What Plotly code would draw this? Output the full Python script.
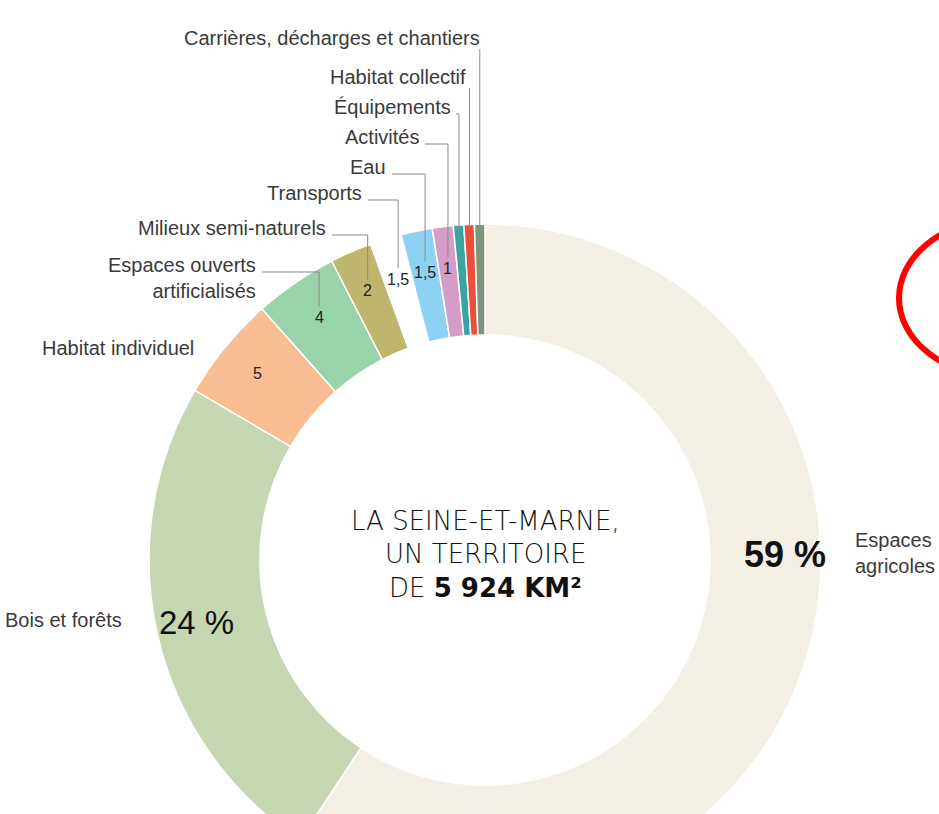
import math
import plotly.graph_objects as go

# ---------------- data ----------------
categories = ["Espaces agricoles", "Bois et forêts", "Habitat individuel",
              "Espaces ouverts artificialisés", "Milieux semi-naturels",
              "Transports", "Eau", "Activités", "Équipements",
              "Habitat collectif", "Carrières, décharges et chantiers"]
values = [59, 24, 5, 4, 2, 1.5, 1.5, 1, 0.5, 0.5, 0.5]
value_labels = ["59 %", "24 %", "5", "4", "2", "1,5", "1,5", "1", "", "", ""]
colors = ["#F3EFE4", "#C6D6B1", "#F8BD93", "#99D3AA", "#BEB66C", "#FFFFFF",
          "#8ED2F3", "#D49DC9", "#3AA5A0", "#E9503B", "#7F957A"]

# ---------------- geometry (pixels) ----------------
W, H = 939, 900
CX, CY, R = 485, 560, 336
HOLE = 0.67

def px(x):
    return x / W

def py(y):
    return 1 - y / H

total = sum(values)
mids = []
cum = 0.0
for v in values:
    mids.append(360.0 * (cum + v / 2) / total)
    cum += v

def polar(theta_deg, r):
    t = math.radians(theta_deg)
    return CX + r * math.sin(t), CY - r * math.cos(t)

fig = go.Figure(go.Pie(
    labels=categories, values=values, sort=False, direction="clockwise",
    rotation=0, hole=HOLE, textinfo="none", hoverinfo="label+value",
    marker=dict(colors=colors, line=dict(color="white", width=1.5)),
    domain=dict(x=[px(CX - R), px(CX + R)], y=[py(CY + R), py(CY - R)]),
    showlegend=False,
))

LABEL_FONT = dict(family="Liberation Sans, Arial", size=20, color="#3a3a3a")
NUM_FONT = dict(family="Liberation Sans, Arial", size=16, color="#222")

annotations = []
shapes = []

def add_text(x, y, text, font, xanchor="center", yanchor="middle", align="center"):
    annotations.append(dict(x=px(x), y=py(y), xref="paper", yref="paper", text=text,
                            showarrow=False, font=font, xanchor=xanchor,
                            yanchor=yanchor, align=align))

# numbers inside small slices
num_pos = {}
for i in range(2, 8):
    x, y = polar(mids[i], 294)
    num_pos[i] = (x, y)
    add_text(x, y, value_labels[i], NUM_FONT)

# big percentages
bx, by = polar(mids[1], 296)
add_text(bx, by - 5, value_labels[1], dict(family="Liberation Sans, Arial", size=33, color="#111"))
add_text(CX + 300, CY - 6, "<b>" + value_labels[0] + "</b>",
         dict(family="Liberation Sans, Arial", size=36, color="#111"))

# outer labels: (x, y of first line) in pixels
outer = {
    10: (482, 38), 9: (468, 77), 8: (453, 107), 7: (421, 137), 6: (388, 167),
    5: (364, 193), 4: (328, 228),
}
for i, (x, y) in outer.items():
    add_text(x, y, categories[i], LABEL_FONT, xanchor="right")

add_text(258, 278, "Espaces ouverts<br>artificialisés", LABEL_FONT, xanchor="right", align="right")
add_text(196, 348, categories[2], LABEL_FONT, xanchor="right")
add_text(124, 620, categories[1], LABEL_FONT, xanchor="right")
add_text(853, 553, "Espaces<br>agricoles", LABEL_FONT, xanchor="left", align="left")

# leader lines
LINE = dict(color="#8a8a8a", width=1)

def path(points):
    d = "M " + " L ".join(f"{px(x):.5f},{py(y):.5f}" for x, y in points)
    shapes.append(dict(type="path", path=d, xref="paper", yref="paper", line=LINE))

for i in (10, 9, 8):
    xs, ys = polar(mids[i], R - 6)
    xt, yt = outer[i]
    if xs > xt + 3:
        path([(xt + 3, yt + 7), (xs, yt + 7), (xs, ys)])
    else:
        path([(xs, yt + 11), (xs, ys)])

for i in (7, 6, 5, 4):
    xn, yn = num_pos[i]
    xt, yt = outer[i]
    path([(xt + 4, yt + 7), (xn, yt + 7), (xn, yn - 11)])

xn, yn = num_pos[3]
path([(262, 272), (xn, 272), (xn, yn - 11)])

# centre text
CFONT = dict(family="DejaVu Sans, Open Sans, sans-serif", size=26, color="#111", weight=200)
add_text(CX, 521, "LA SEINE-ET-MARNE,", CFONT)
add_text(CX, 554, "UN TERRITOIRE", CFONT)
add_text(CX, 588, "DE <b>5 924 KM²</b>", CFONT)

# red circle (partially visible on the right)
shapes.append(dict(type="circle", xref="paper", yref="paper",
                   x0=px(899), x1=px(1101), y0=py(376), y1=py(220),
                   line=dict(color="#FF0000", width=6)))

fig.update_layout(
    width=W, height=H, margin=dict(l=0, r=0, t=0, b=0),
    paper_bgcolor="white", plot_bgcolor="white",
    annotations=annotations, shapes=shapes,
)

fig.write_html("out.html", config={"displayModeBar": False},
               post_script="document.body.style.margin='0';document.body.style.overflow='hidden';document.documentElement.style.overflow='hidden';")
